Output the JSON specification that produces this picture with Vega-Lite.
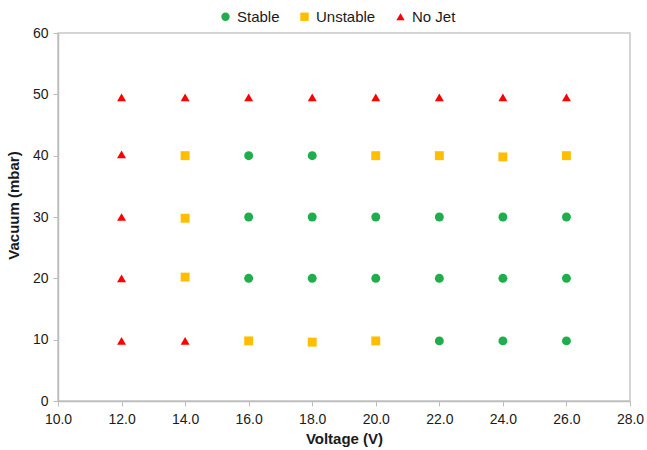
{
  "$schema": "https://vega.github.io/schema/vega-lite/v6.json",
  "width": 572,
  "height": 368,
  "autosize": "none",
  "padding": {"left": 58, "top": 33, "right": 17, "bottom": 49},
  "background": "white",
  "config": {
    "font": "Liberation Sans",
    "view": {"stroke": "#c8c8c8", "strokeWidth": 1.5},
    "axis": {
      "grid": false,
      "domainColor": "#bdbdbd",
      "domainWidth": 1.5,
      "tickColor": "#bdbdbd",
      "tickSize": 5,
      "labelFlush": false,
      "labelFont": "Liberation Sans",
      "labelFontSize": 14,
      "labelColor": "#1a1a1a",
      "titleFont": "Liberation Sans",
      "titleFontSize": 15,
      "titleFontWeight": "bold",
      "titleColor": "#1a1a1a"
    }
  },
  "data": {
    "values": [
      {"voltage": 12, "vacuum": 49.5, "status": "No Jet"},
      {"voltage": 14, "vacuum": 49.5, "status": "No Jet"},
      {"voltage": 16, "vacuum": 49.5, "status": "No Jet"},
      {"voltage": 18, "vacuum": 49.5, "status": "No Jet"},
      {"voltage": 20, "vacuum": 49.5, "status": "No Jet"},
      {"voltage": 22, "vacuum": 49.5, "status": "No Jet"},
      {"voltage": 24, "vacuum": 49.5, "status": "No Jet"},
      {"voltage": 26, "vacuum": 49.5, "status": "No Jet"},
      {"voltage": 12, "vacuum": 40.2, "status": "No Jet"},
      {"voltage": 14, "vacuum": 40, "status": "Unstable"},
      {"voltage": 16, "vacuum": 40, "status": "Stable"},
      {"voltage": 18, "vacuum": 40, "status": "Stable"},
      {"voltage": 20, "vacuum": 40, "status": "Unstable"},
      {"voltage": 22, "vacuum": 40, "status": "Unstable"},
      {"voltage": 24, "vacuum": 39.8, "status": "Unstable"},
      {"voltage": 26, "vacuum": 40, "status": "Unstable"},
      {"voltage": 12, "vacuum": 30, "status": "No Jet"},
      {"voltage": 14, "vacuum": 29.8, "status": "Unstable"},
      {"voltage": 16, "vacuum": 30, "status": "Stable"},
      {"voltage": 18, "vacuum": 30, "status": "Stable"},
      {"voltage": 20, "vacuum": 30, "status": "Stable"},
      {"voltage": 22, "vacuum": 30, "status": "Stable"},
      {"voltage": 24, "vacuum": 30, "status": "Stable"},
      {"voltage": 26, "vacuum": 30, "status": "Stable"},
      {"voltage": 12, "vacuum": 20, "status": "No Jet"},
      {"voltage": 14, "vacuum": 20.2, "status": "Unstable"},
      {"voltage": 16, "vacuum": 20, "status": "Stable"},
      {"voltage": 18, "vacuum": 20, "status": "Stable"},
      {"voltage": 20, "vacuum": 20, "status": "Stable"},
      {"voltage": 22, "vacuum": 20, "status": "Stable"},
      {"voltage": 24, "vacuum": 20, "status": "Stable"},
      {"voltage": 26, "vacuum": 20, "status": "Stable"},
      {"voltage": 12, "vacuum": 9.8, "status": "No Jet"},
      {"voltage": 14, "vacuum": 9.8, "status": "No Jet"},
      {"voltage": 16, "vacuum": 9.8, "status": "Unstable"},
      {"voltage": 18, "vacuum": 9.6, "status": "Unstable"},
      {"voltage": 20, "vacuum": 9.8, "status": "Unstable"},
      {"voltage": 22, "vacuum": 9.8, "status": "Stable"},
      {"voltage": 24, "vacuum": 9.8, "status": "Stable"},
      {"voltage": 26, "vacuum": 9.8, "status": "Stable"}
    ]
  },
  "mark": {"type": "point", "filled": true, "opacity": 1},
  "encoding": {
    "x": {
      "field": "voltage",
      "type": "quantitative",
      "title": "Voltage (V)",
      "scale": {"domain": [10, 28], "nice": false, "zero": false},
      "axis": {"values": [10, 12, 14, 16, 18, 20, 22, 24, 26, 28], "format": ".1f", "titlePadding": 5, "labelPadding": 6}
    },
    "y": {
      "field": "vacuum",
      "type": "quantitative",
      "title": "Vacuum (mbar)",
      "scale": {"domain": [0, 60], "nice": false},
      "axis": {"values": [0, 10, 20, 30, 40, 50, 60], "labelPadding": 5, "titleX": -37, "titleY": 172}
    },
    "color": {
      "field": "status",
      "type": "nominal",
      "scale": {"domain": ["Stable", "Unstable", "No Jet"], "range": ["#1fae4b", "#ffbf00", "#ff0000"]},
      "legend": {
        "title": null,
        "orient": "none",
        "direction": "horizontal",
        "legendX": 160,
        "legendY": -24,
        "labelFont": "Liberation Sans",
        "labelFontSize": 15,
        "labelColor": "#1a1a1a",
        "symbolSize": 70,
        "columnPadding": 17,
        "labelOffset": 4
      }
    },
    "shape": {
      "field": "status",
      "type": "nominal",
      "scale": {"domain": ["Stable", "Unstable", "No Jet"], "range": ["circle", "square", "triangle-up"]}
    },
    "size": {"value": 80}
  }
}
